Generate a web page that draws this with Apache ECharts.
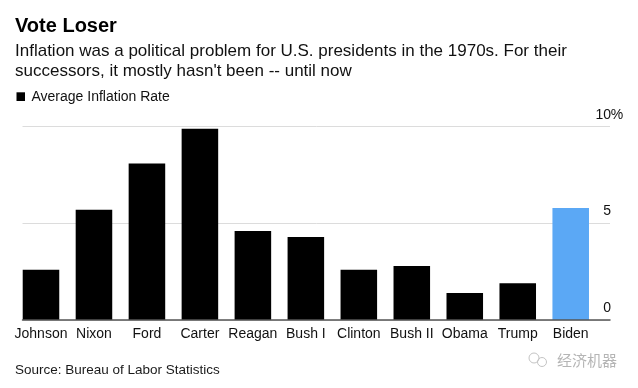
<!DOCTYPE html>
<html>
<head>
<meta charset="utf-8">
<script src="https://cdn.jsdelivr.net/npm/echarts@6/dist/echarts.min.js"></script>
<style>
html,body{margin:0;padding:0;background:#fff;}
#chart{width:638px;height:388px;}
</style>
</head>
<body>
<div id="chart"></div>
<script>
const categories = ['Johnson','Nixon','Ford','Carter','Reagan','Bush I','Clinton','Bush II','Obama','Trump','Biden'];
const inflationRate = [2.6, 5.7, 8.1, 9.9, 4.6, 4.3, 2.6, 2.8, 1.4, 1.9, 5.8];
const highlighted = 'Biden';
const yTicks = [0, 5, 10];

const FONT = '"Liberation Sans", Arial, sans-serif';
const chart = echarts.init(document.getElementById('chart'), null, {renderer: 'canvas'});

const option = {
  backgroundColor: '#fff',
  animation: false,
  grid: [
    {left: 14.5, right: 40.8, top: 126.7, bottom: 68},
    {left: 22.5, right: 28, top: 126.7, bottom: 68}
  ],
  xAxis: [
    {
      gridIndex: 0, type: 'category', data: categories,
      axisLine: {show: false}, axisTick: {show: false},
      axisLabel: {color: '#111', fontFamily: FONT, fontSize: 14, margin: 7, interval: 0}
    },
    {
      gridIndex: 1, type: 'value', min: 0, max: 1, z: 5,
      axisLine: {show: true, lineStyle: {color: '#555', width: 1.5}},
      axisTick: {show: false}, axisLabel: {show: false}, splitLine: {show: false}
    }
  ],
  yAxis: [
    {gridIndex: 0, type: 'value', min: 0, max: 10, show: false},
    {
      gridIndex: 1, type: 'value', position: 'right', min: 0, max: 10, interval: 5,
      axisLine: {show: false}, axisTick: {show: false},
      splitLine: {show: true, lineStyle: {color: '#dcdcdc', width: 1}},
      axisLabel: {
        margin: 13, align: 'right', verticalAlign: 'bottom',
        padding: [0, 0, 5, 0],
        formatter: function (v) {
          return '{v|' + v + '}' + (v === yTicks[yTicks.length - 1] ? '{p|%}' : '{p|}');
        },
        rich: {
          v: {color: '#111', fontFamily: FONT, fontSize: 14, lineHeight: 14},
          p: {color: '#111', fontFamily: FONT, fontSize: 14, lineHeight: 14, width: 12, align: 'left'}
        }
      }
    }
  ],
  series: [{
    type: 'bar', xAxisIndex: 0, yAxisIndex: 0,
    data: inflationRate,
    barWidth: '69%',
    itemStyle: {
      color: function (p) { return p.name === highlighted ? '#5ba8f5' : '#000'; }
    }
  }],
  graphic: [
    {type: 'text', x: 15, y: 26.7, style: {text: 'Vote Loser', fill: '#000', font: 'bold 20px ' + FONT, verticalAlign: 'middle'}},
    {type: 'text', x: 15, y: 51.3, style: {text: 'Inflation was a political problem for U.S. presidents in the 1970s. For their', fill: '#111', font: '17px ' + FONT, verticalAlign: 'middle'}},
    {type: 'text', x: 15, y: 71.3, style: {text: "successors, it mostly hasn't been -- until now", fill: '#111', font: '17px ' + FONT, verticalAlign: 'middle'}},
    {type: 'rect', shape: {x: 16.5, y: 92.3, width: 8.5, height: 8.7}, style: {fill: '#000'}},
    {type: 'text', x: 31.5, y: 96.7, style: {text: 'Average Inflation Rate', fill: '#111', font: '14px ' + FONT, verticalAlign: 'middle'}},
    {type: 'text', x: 15, y: 370, style: {text: 'Source: Bureau of Labor Statistics', fill: '#1a1a1a', font: '13.5px ' + FONT, verticalAlign: 'middle'}},
    {type: 'circle', shape: {cx: 534, cy: 358, r: 5}, style: {fill: 'none', stroke: '#c4c4c4', lineWidth: 1}},
    {type: 'circle', shape: {cx: 542, cy: 362, r: 4.5}, style: {fill: 'none', stroke: '#c4c4c4', lineWidth: 1}},
    {type: 'text', x: 557, y: 360, style: {text: '经济机器', fill: '#b5b5b5', font: '15px "Noto Sans CJK SC", sans-serif', verticalAlign: 'middle'}}
  ]
};
chart.setOption(option);
</script>
</body>
</html>
